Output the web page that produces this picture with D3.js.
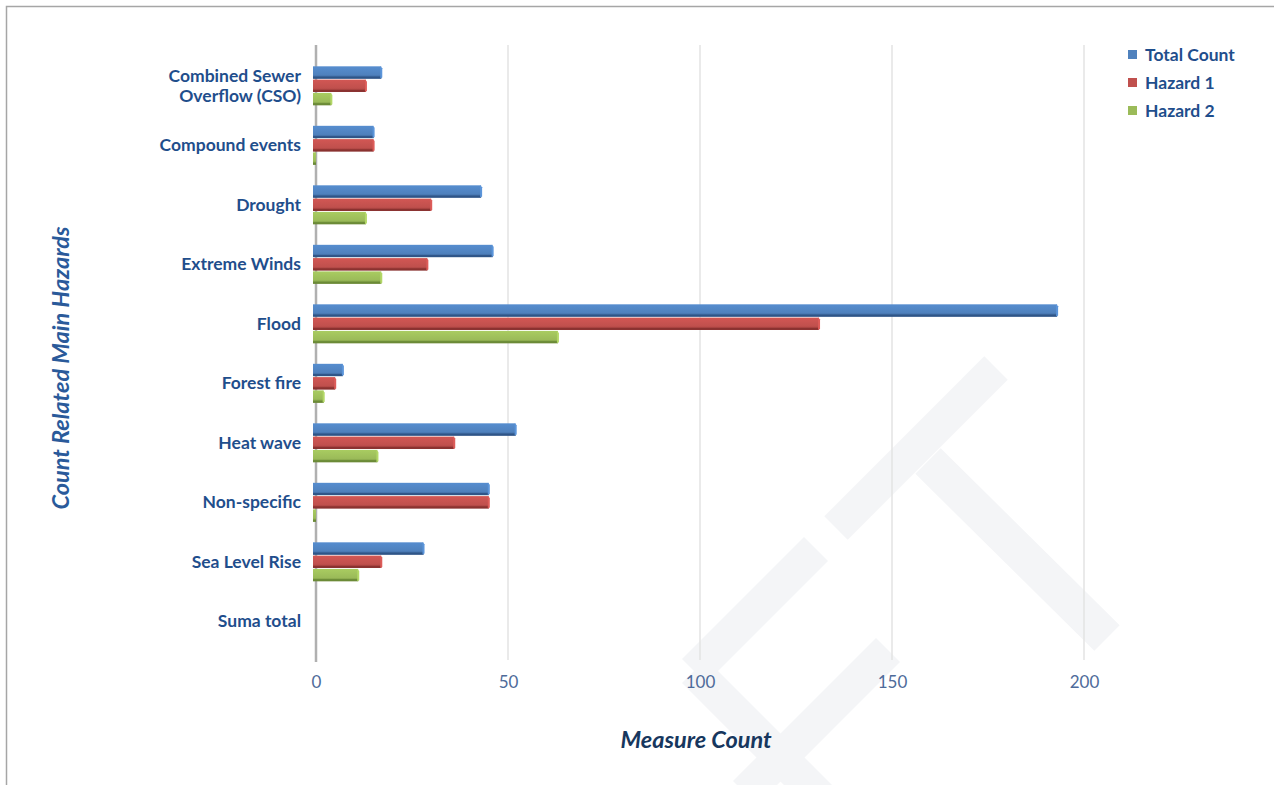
<!DOCTYPE html>
<html>
<head>
<meta charset="utf-8">
<script src="https://cdn.jsdelivr.net/npm/d3@7"></script>
<style>
  html, body { margin: 0; padding: 0; background: #fff; }
  svg { display: block; }
  text { font-family: Lato, "Open Sans", sans-serif; }
</style>
</head>
<body>
<div id="chart"></div>
<script>
// data
const categories = ["Combined Sewer\nOverflow (CSO)", "Compound events", "Drought", "Extreme Winds",
    "Flood", "Forest fire", "Heat wave", "Non-specific", "Sea Level Rise", "Suma total"];
const seriesNames = ["Total Count", "Hazard 1", "Hazard 2"];
const totalCount = [17, 15, 43, 46, 193, 7, 52, 45, 28, null];
const hazard1 = [13, 15, 30, 29, 131, 5, 36, 45, 17, null];
const hazard2 = [4, 0, 13, 17, 63, 2, 16, 0, 11, null];
const xTicks = [0, 50, 100, 150, 200];

const seriesValues = [totalCount, hazard1, hazard2];
const colors = ["#4f81bd", "#c0504d", "#9bbb59"];
const darkColors = ["#2f5587", "#8a3230", "#6b8a37"];

const W = 1274, H = 785;
const svg = d3.select("#chart").append("svg")
    .attr("width", W).attr("height", H);

// watermark
const wm = svg.append("g")
    .attr("stroke", "#f4f5f7")
    .attr("fill", "none")
    .attr("stroke-linecap", "butt");
[
    [[836, 528], [996, 368], 33],
    [[928, 461], [1107, 638], 36],
    [[816, 549], [694, 671], 34],
    [[694, 671], [820, 797], 34],
    [[888, 650], [745, 793], 34]
].forEach(([a, b, w]) => {
    wm.append("line")
        .attr("x1", a[0]).attr("y1", a[1])
        .attr("x2", b[0]).attr("y2", b[1])
        .attr("stroke-width", w);
});

// frame
svg.append("path")
    .attr("d", `M6.5,${H} V6.5 H${W}`)
    .attr("fill", "none")
    .attr("stroke", "#a6a6a6")
    .attr("stroke-width", 1.5);

const plotTop = 45, plotBottom = 660;

const x = d3.scaleLinear().domain([0, 200]).range([316, 1084]);
const y = d3.scaleBand().domain(categories).range([56, 651]).paddingInner(0.33).paddingOuter(0.165);
const ySub = d3.scaleBand().domain(seriesNames).range([0, y.bandwidth()]);

// gridlines
svg.append("g")
    .selectAll("line")
    .data(xTicks.filter(d => d > 0))
    .join("line")
    .attr("x1", d => x(d)).attr("x2", d => x(d))
    .attr("y1", plotTop).attr("y2", plotBottom)
    .attr("stroke", "#e3e3e3")
    .attr("stroke-width", 1.5);

// vertical axis line
svg.append("line")
    .attr("x1", x(0)).attr("x2", x(0))
    .attr("y1", plotTop).attr("y2", plotBottom + 2)
    .attr("stroke", "#b0b0b0")
    .attr("stroke-width", 2.5);

// x axis
const xAxis = svg.append("g")
    .attr("transform", `translate(0,${plotBottom})`)
    .call(d3.axisBottom(x).tickValues(xTicks).tickSize(0).tickPadding(16));
xAxis.select(".domain").remove();
xAxis.selectAll("text")
    .attr("fill", "#4e6b9a")
    .style("font-family", "Lato, sans-serif")
    .style("font-size", "17px");

// gradients for bars
const defs = svg.append("defs");
colors.forEach((c, i) => {
    const g = defs.append("linearGradient")
        .attr("id", "grad" + i)
        .attr("x1", 0).attr("x2", 0).attr("y1", 0).attr("y2", 1);
    g.append("stop").attr("offset", "0%").attr("stop-color", d3.color(c).brighter(0.25));
    g.append("stop").attr("offset", "70%").attr("stop-color", c);
    g.append("stop").attr("offset", "100%").attr("stop-color", darkColors[i]);
});

// bars
const rows = categories.map((c, ci) => ({
    cat: c,
    bars: seriesNames.map((s, si) => ({ s, si, v: seriesValues[si][ci] }))
}));

const groups = svg.append("g")
    .selectAll("g")
    .data(rows)
    .join("g")
    .attr("transform", d => `translate(0,${y(d.cat)})`);

const bar = groups.selectAll("g.bar")
    .data(d => d.bars.filter(b => b.v !== null))
    .join("g")
    .attr("class", "bar");

const bh = ySub.bandwidth();
const x0 = x(0) - 3;

bar.append("rect")
    .attr("x", x0)
    .attr("y", d => ySub(d.s) + 0.5)
    .attr("width", d => Math.max(1.5, x(d.v) - x0))
    .attr("height", bh - 1)
    .attr("fill", d => `url(#grad${d.si})`);

bar.append("rect")
    .attr("x", x0)
    .attr("y", d => ySub(d.s) + bh - 2.5)
    .attr("width", d => Math.max(1.5, x(d.v) - x0))
    .attr("height", 2)
    .attr("fill", d => darkColors[d.si]);

bar.filter(d => d.v > 0).append("path")
    .attr("d", d => {
        const xe = x(d.v), yt = ySub(d.s) + 0.5, yb = yt + bh - 1;
        return `M${xe - 1},${yt} L${xe + 1},${yt + 2} L${xe + 1},${yb - 1} L${xe - 1},${yb} Z`;
    })
    .attr("fill", d => d3.color(colors[d.si]).brighter(0.4));

// category labels
const labels = svg.append("g")
    .selectAll("text")
    .data(categories)
    .join("text")
    .attr("x", 301)
    .attr("y", d => y(d) + y.bandwidth() / 2)
    .attr("text-anchor", "end")
    .attr("fill", "#1f4e8c")
    .style("font-size", "17.5px")
    .style("font-weight", "bold");

labels.each(function (d) {
    const lines = d.split("\n");
    const t = d3.select(this);
    lines.forEach((l, i) => {
        t.append("tspan")
            .attr("x", 301)
            .attr("dy", i === 0 ? `${0.35 - (lines.length - 1) * 0.57}em` : "1.14em")
            .text(l);
    });
});

// axis titles
svg.append("text")
    .attr("x", 696).attr("y", 748)
    .attr("text-anchor", "middle")
    .attr("fill", "#17375e")
    .style("font-size", "23.5px")
    .style("font-weight", "bold")
    .style("font-style", "italic")
    .text("Measure Count");

svg.append("text")
    .attr("transform", "translate(69,368) rotate(-90)")
    .attr("text-anchor", "middle")
    .attr("fill", "#2a5a9a")
    .style("font-size", "23.5px")
    .style("font-weight", "bold")
    .style("font-style", "italic")
    .text("Count Related Main Hazards");

// legend
const legend = svg.append("g")
    .selectAll("g")
    .data(seriesNames)
    .join("g")
    .attr("transform", (d, i) => `translate(1128,${55 + i * 28})`);

legend.append("rect")
    .attr("x", 0).attr("y", -5)
    .attr("width", 9).attr("height", 9)
    .attr("fill", (d, i) => colors[i]);

legend.append("text")
    .attr("x", 17).attr("y", 0)
    .attr("dy", "0.35em")
    .attr("fill", "#1f4e8c")
    .style("font-size", "17.5px")
    .style("font-weight", "bold")
    .text(d => d);
</script>
</body>
</html>
